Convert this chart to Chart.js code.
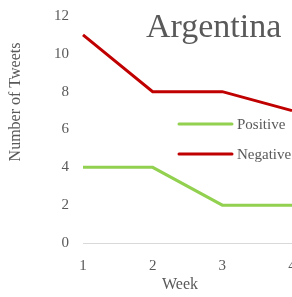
<!DOCTYPE html>
<html>
<head>
<meta charset="utf-8">
<script src="https://cdn.jsdelivr.net/npm/chart.js@4/dist/chart.umd.min.js"></script>
<style>
html,body{margin:0;padding:0;background:#fff;overflow:hidden;width:292px;height:297px;}
#wrap{position:relative;width:330px;height:297px;}
</style>
</head>
<body>
<div id="wrap"><canvas id="c" width="330" height="297"></canvas></div>
<script>
const weeks = ['1', '2', '3', '4'];
const positive = [4, 4, 2, 2];
const negative = [11, 8, 8, 7];
const seriesNames = ['Positive', 'Negative'];
const chartTitle = 'Argentina';
const xTitle = 'Week';
const yTitle = 'Number of Tweets';
const yTicks = [0, 2, 4, 6, 8, 10, 12];

const GREY = '#595959';
const SERIF = '"Liberation Serif", "Times New Roman", serif';

const overlay = {
  id: 'overlay',
  afterDraw(chart) {
    const ctx = chart.ctx;
    const a = chart.chartArea;
    ctx.save();
    // title
    ctx.fillStyle = GREY;
    ctx.font = '34px ' + SERIF;
    ctx.textAlign = 'left';
    ctx.textBaseline = 'alphabetic';
    ctx.fillText(chartTitle, a.left + 63, 37);
    // axis titles
    ctx.font = '16px ' + SERIF;
    ctx.textAlign = 'center';
    ctx.textBaseline = 'middle';
    ctx.fillText(xTitle, 180, 285);
    ctx.save();
    ctx.translate(16, 102);
    ctx.rotate(-Math.PI / 2);
    ctx.fillText(yTitle, 0, 0);
    ctx.restore();
    // legend
    const items = chart.data.datasets;
    const ys = [124, 154];
    items.forEach((ds, i) => {
      ctx.strokeStyle = ds.borderColor;
      ctx.lineWidth = 3;
      ctx.lineCap = 'round';
      ctx.beginPath();
      ctx.moveTo(a.left + 96, ys[i]);
      ctx.lineTo(a.left + 149, ys[i]);
      ctx.stroke();
      ctx.fillStyle = GREY;
      ctx.textAlign = 'left';
      ctx.textBaseline = 'middle';
      ctx.font = '15px ' + SERIF;
      ctx.fillText(ds.label, a.left + 154, ys[i] + 1);
    });
    ctx.restore();
  }
};

new Chart(document.getElementById('c'), {
  type: 'line',
  data: {
    labels: weeks,
    datasets: [
      { label: seriesNames[0], data: positive, borderColor: '#92D050', backgroundColor: '#92D050', borderWidth: 3, pointRadius: 0, tension: 0, fill: false },
      { label: seriesNames[1], data: negative, borderColor: '#C00000', backgroundColor: '#C00000', borderWidth: 3, pointRadius: 0, tension: 0, fill: false }
    ]
  },
  options: {
    responsive: false,
    animation: false,
    layout: { padding: { top: 16, right: 38, left: 0, bottom: 0 } },
    plugins: { legend: { display: false }, tooltip: { enabled: false }, title: { display: false } },
    scales: {
      x: {
        offset: false,
        grid: { display: false, drawTicks: false },
        border: { display: true, color: '#D9D9D9', width: 1 },
        ticks: { color: GREY, font: { family: SERIF, size: 15 }, padding: 14, maxRotation: 0, autoSkip: false },
        afterFit(s) { s.height = 54; s.paddingLeft = 0; s.paddingRight = 0; }
      },
      y: {
        min: 0, max: 12,
        grid: { display: false, drawTicks: false },
        border: { display: false },
        afterBuildTicks(s) { s.ticks = yTicks.map(v => ({ value: v })); },
        ticks: { color: GREY, font: { family: SERIF, size: 15 }, padding: 14 },
        afterFit(s) { s.width = 83; s.paddingTop = 0; s.paddingBottom = 0; }
      }
    }
  },
  plugins: [overlay]
});
</script>
</body>
</html>
